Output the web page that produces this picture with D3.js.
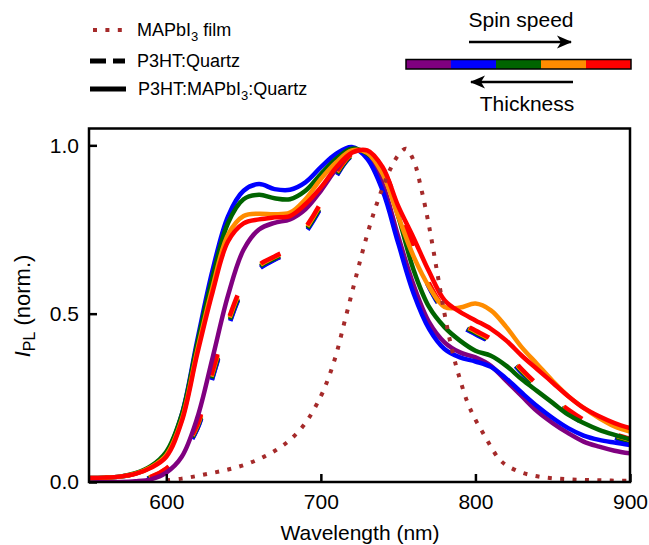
<!DOCTYPE html>
<html lang="en">
<head>
<meta charset="UTF-8">
<title>PL spectra</title>
<script src="https://cdn.jsdelivr.net/npm/d3@7"></script>
<style>
  body { margin: 0; background: #fff; }
  svg text { font-family: "Liberation Sans", Arial, Helvetica, sans-serif; fill: #000; }
</style>
</head>
<body>
<svg id="chart" width="649" height="545"></svg>
<script>
// wavelength grids (nm)
const wlSolid = [550,560,570,580,590,600,610,620,630,640,650,660,670,680,690,700,710,720,730,740,750,760,770,780,790,800,810,820,830,840,850,860,870,880,890,900];
const wlDash  = [570,580,590,600,610,620,630,640,650,660,670,680,690,700,710,720,730,740,750,760,770,780,790,800,810,820,830,840,850,860,870,880,890,900];
const wlFilm  = [600,610,620,630,640,650,660,670,680,690,700,705,710,715,720,725,730,735,740,745,750,755,760,765,770,775,780,785,790,795,800,805,810,815,820,830,840,850,860,870,880,890,900];

// P3HT:MAPbI3:Quartz (solid), thick -> thin
const sPurple = [0,0,0,0.002,0.008,0.028,0.075,0.19,0.37,0.555,0.69,0.75,0.77,0.78,0.81,0.865,0.93,0.98,0.975,0.885,0.73,0.585,0.475,0.415,0.385,0.37,0.345,0.30,0.255,0.21,0.175,0.145,0.12,0.105,0.093,0.085];
const sBlue   = [0.012,0.013,0.016,0.025,0.045,0.085,0.2,0.42,0.63,0.79,0.865,0.885,0.87,0.868,0.89,0.935,0.975,0.995,0.96,0.865,0.71,0.56,0.455,0.395,0.37,0.358,0.342,0.307,0.265,0.225,0.19,0.16,0.138,0.125,0.117,0.11];
const sGreen  = [0.012,0.013,0.016,0.026,0.047,0.09,0.2,0.41,0.61,0.77,0.84,0.853,0.843,0.84,0.865,0.915,0.96,0.99,0.975,0.925,0.79,0.63,0.52,0.46,0.42,0.39,0.375,0.345,0.305,0.27,0.235,0.2,0.175,0.155,0.14,0.127];
const sOrange = [0.012,0.013,0.016,0.025,0.044,0.08,0.185,0.39,0.58,0.735,0.79,0.797,0.795,0.80,0.84,0.9,0.95,0.985,0.978,0.915,0.79,0.67,0.58,0.52,0.518,0.53,0.51,0.46,0.40,0.35,0.30,0.255,0.22,0.19,0.165,0.15];
const sRed    = [0.012,0.013,0.016,0.024,0.042,0.075,0.18,0.38,0.565,0.715,0.768,0.78,0.786,0.79,0.825,0.875,0.935,0.978,0.985,0.935,0.82,0.725,0.625,0.54,0.505,0.48,0.455,0.42,0.375,0.335,0.295,0.255,0.22,0.195,0.175,0.16];

// P3HT:Quartz (dashed)
const dPurple = [0,0.004,0.013,0.035,0.082,0.158,0.312,0.462,0.575,0.634,0.661,0.685,0.742,0.817,0.91,0.969,0.981,0.923,0.81,0.69,0.58,0.506,0.466,0.441,0.416,0.376,0.326,0.281,0.241,0.206,0.176,0.151,0.133,0.119];
const dBlue   = [0,0.004,0.013,0.035,0.082,0.157,0.31,0.46,0.574,0.633,0.66,0.684,0.74,0.815,0.908,0.968,0.98,0.922,0.808,0.688,0.578,0.504,0.464,0.439,0.414,0.374,0.324,0.279,0.239,0.204,0.174,0.149,0.131,0.117];
const dGreen  = [0,0.004,0.014,0.037,0.085,0.162,0.318,0.468,0.58,0.638,0.664,0.688,0.745,0.82,0.912,0.97,0.982,0.925,0.812,0.692,0.582,0.508,0.468,0.443,0.418,0.378,0.328,0.283,0.243,0.208,0.178,0.153,0.135,0.121];
const dOrange = [0,0.005,0.015,0.039,0.088,0.166,0.325,0.475,0.586,0.642,0.668,0.692,0.75,0.826,0.917,0.973,0.984,0.928,0.816,0.696,0.586,0.512,0.472,0.447,0.422,0.382,0.332,0.287,0.247,0.212,0.182,0.157,0.139,0.125];
const dRed    = [0,0.005,0.015,0.04,0.09,0.17,0.33,0.48,0.59,0.645,0.67,0.695,0.755,0.83,0.92,0.975,0.985,0.93,0.82,0.70,0.59,0.515,0.475,0.45,0.425,0.385,0.335,0.29,0.25,0.215,0.185,0.16,0.142,0.128];

// MAPbI3 film (dotted)
const film = [0.005,0.01,0.018,0.027,0.037,0.05,0.068,0.092,0.125,0.175,0.255,0.31,0.38,0.47,0.56,0.65,0.735,0.81,0.875,0.93,0.97,0.99,0.955,0.87,0.76,0.63,0.50,0.39,0.305,0.235,0.185,0.145,0.105,0.07,0.05,0.028,0.017,0.011,0.008,0.006,0.005,0.004,0.004];

const colors = ["#800080","#0000ff","#006400","#ff8c00","#ff0000"];
const solidSeries = [sPurple, sBlue, sGreen, sOrange, sRed];
const dashSeries  = [dPurple, dBlue, dGreen, dOrange, dRed];
const xTicks = [600,700,800,900];
const yTicks = [0,0.5,1.0];
const filmColor = "#a52a2a";

const svg = d3.select("#chart");

const x = d3.scaleLinear().domain([550,900]).range([89,630]);
const y = d3.scaleLinear().domain([0,1.05]).range([482,128.5]);

const line = d3.line()
    .x(d => x(d[0])).y(d => y(d[1]))
    .curve(d3.curveCatmullRom.alpha(0.5));

svg.append("clipPath").attr("id","clip")
  .append("rect").attr("x",89).attr("y",128.5).attr("width",541).attr("height",353.5);

const plot = svg.append("g").attr("clip-path","url(#clip)");

// dashed P3HT:Quartz, dash phase set so one dash sits at ~620 nm
const dashLen = 22, dashPeriod = 62;
dashSeries.forEach((vals, i) => {
  const p = plot.append("path")
    .datum(d3.zip(wlDash, vals))
    .attr("d", line)
    .attr("fill","none").attr("stroke", colors[i])
    .attr("stroke-width", 4.5)
    .attr("stroke-dasharray", dashLen + "," + (dashPeriod - dashLen));
  const node = p.node(), total = node.getTotalLength();
  let L = 0;
  for (let s = 0; s < total; s += 0.5) {
    if (node.getPointAtLength(s).x >= x(620)) { L = s; break; }
  }
  const off = ((-(L - dashLen / 2)) % dashPeriod + dashPeriod) % dashPeriod;
  p.attr("stroke-dashoffset", off);
});

// solid P3HT:MAPbI3:Quartz
solidSeries.forEach((vals, i) => {
  plot.append("path")
    .datum(d3.zip(wlSolid, vals))
    .attr("d", line)
    .attr("fill","none").attr("stroke", colors[i])
    .attr("stroke-width", 4.5).attr("stroke-linejoin","round");
});

// MAPbI3 film
plot.append("path")
  .datum(d3.zip(wlFilm, film))
  .attr("d", line)
  .attr("fill","none").attr("stroke", filmColor)
  .attr("stroke-width", 4).attr("stroke-dasharray","4,8.4");

// axes (inward ticks)
const xAxis = svg.append("g").attr("transform","translate(0,482)")
  .call(d3.axisBottom(x).tickValues(xTicks).tickSize(-8).tickPadding(12).tickFormat(d3.format("d")));
const yAxis = svg.append("g").attr("transform","translate(89,0)")
  .call(d3.axisLeft(y).tickValues(yTicks).tickSize(-8).tickPadding(10).tickFormat(d3.format(".1f")));
[xAxis, yAxis].forEach(g => {
  g.select(".domain").remove();
  g.selectAll("line").attr("stroke","#000").attr("stroke-width",2.5);
  g.selectAll("text").attr("font-size",21).attr("font-family",null).style("fill","#000");
});

// frame
svg.append("rect").attr("x",89).attr("y",128.5).attr("width",541).attr("height",353.5)
  .attr("fill","none").attr("stroke","#000").attr("stroke-width",2.5);

// axis titles
svg.append("text").attr("x",360).attr("y",540).attr("text-anchor","middle")
  .attr("font-size",21).text("Wavelength (nm)");
const yl = svg.append("text").attr("transform","translate(30,306) rotate(-90)")
  .attr("text-anchor","middle").attr("font-size",22);
yl.append("tspan").attr("font-style","italic").text("I");
yl.append("tspan").attr("dy",5).attr("font-size",16).text("PL");
yl.append("tspan").attr("dy",-5).text(" (norm.)");

// legend
const leg = svg.append("g");
leg.append("line").attr("x1",93).attr("x2",125).attr("y1",30).attr("y2",30)
  .attr("stroke",filmColor).attr("stroke-width",4).attr("stroke-dasharray","4,8.4");
leg.append("line").attr("x1",90).attr("x2",125).attr("y1",61).attr("y2",61)
  .attr("stroke","#000").attr("stroke-width",5).attr("stroke-dasharray","16,7");
leg.append("line").attr("x1",90).attr("x2",126).attr("y1",89).attr("y2",89)
  .attr("stroke","#000").attr("stroke-width",5);
const t1 = leg.append("text").attr("x",137).attr("y",36).attr("font-size",18);
t1.append("tspan").text("MAPbI");
t1.append("tspan").attr("dy",5).attr("font-size",13).text("3");
t1.append("tspan").attr("dy",-5).text(" film");
leg.append("text").attr("x",137).attr("y",67).attr("font-size",18).text("P3HT:Quartz");
const t3 = leg.append("text").attr("x",138).attr("y",95).attr("font-size",18);
t3.append("tspan").text("P3HT:MAPbI");
t3.append("tspan").attr("dy",5).attr("font-size",13).text("3");
t3.append("tspan").attr("dy",-5).text(":Quartz");

// colour bar with arrows
const bar = d3.scaleBand().domain(d3.range(colors.length)).range([406,631]);
svg.append("g").selectAll("rect").data(colors).join("rect")
  .attr("x",(d,i) => bar(i)).attr("y",59.5).attr("width",bar.bandwidth()).attr("height",9.5)
  .attr("fill", d => d);
svg.append("rect").attr("x",406).attr("y",59.5).attr("width",225).attr("height",9.5)
  .attr("fill","none").attr("stroke","#000").attr("stroke-width",1.5);

const defs = svg.append("defs");
defs.append("marker").attr("id","head").attr("markerUnits","userSpaceOnUse")
  .attr("viewBox","-16 -8 18 16").attr("refX",0).attr("refY",0)
  .attr("markerWidth",18).attr("markerHeight",16).attr("orient","auto")
  .append("path").attr("d","M1,0 L-14,-6.5 L-10,0 L-14,6.5 Z").attr("fill","#000");

svg.append("line").attr("x1",469).attr("x2",571).attr("y1",42).attr("y2",42)
  .attr("stroke","#000").attr("stroke-width",2.7).attr("marker-end","url(#head)");
svg.append("line").attr("x1",573).attr("x2",471).attr("y1",82).attr("y2",82)
  .attr("stroke","#000").attr("stroke-width",2.7).attr("marker-end","url(#head)");
svg.append("text").attr("x",521).attr("y",27).attr("text-anchor","middle")
  .attr("font-size",21).text("Spin speed");
svg.append("text").attr("x",527).attr("y",111).attr("text-anchor","middle")
  .attr("font-size",21).text("Thickness");
</script>
</body>
</html>
